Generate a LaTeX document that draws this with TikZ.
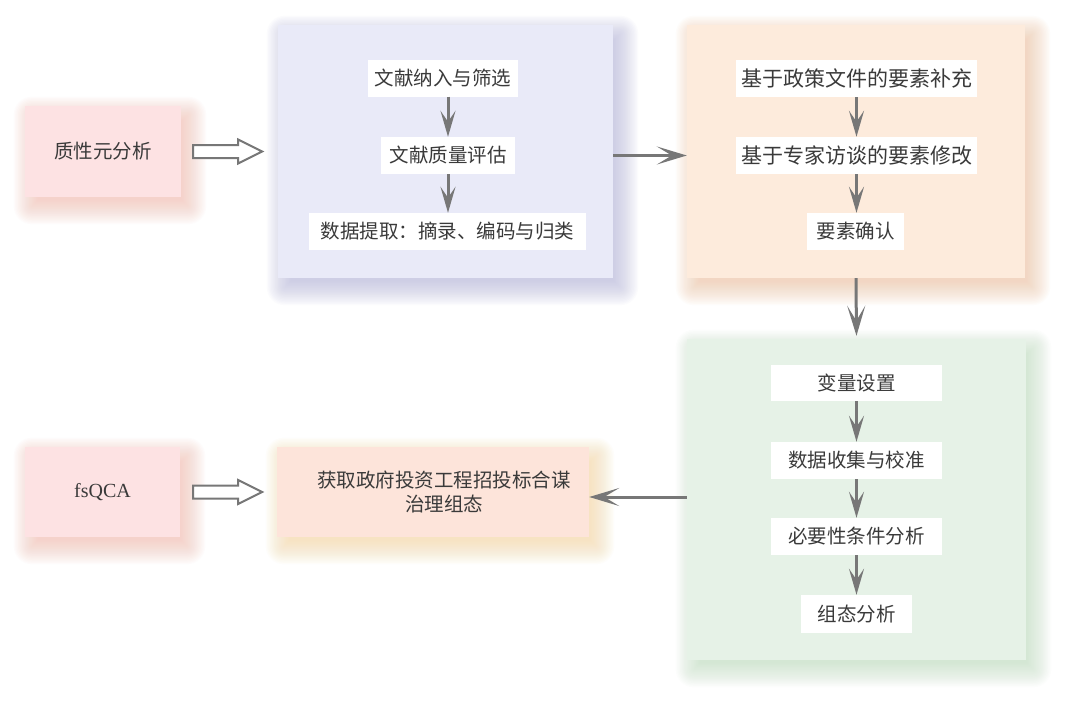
\documentclass[tikz,border=0pt]{standalone}
\usepackage{fontspec}
\setmainfont{Noto Sans CJK SC}
\newfontfamily\latinserif{Liberation Serif}
\usetikzlibrary{arrows.meta,calc}
\pgfdeclarelayer{bg}
\pgfsetlayers{bg,main}
\definecolor{txt}{HTML}{3A3A3A}
\definecolor{arr}{HTML}{777777}
\definecolor{pinkF}{HTML}{FDE2E3}
\definecolor{pinkS}{HTML}{F5B8AA}
\definecolor{blueF}{HTML}{E9EAF8}
\definecolor{blueS}{HTML}{B0B1D8}
\definecolor{oranF}{HTML}{FDEBDC}
\definecolor{oranS}{HTML}{F2C09C}
\definecolor{greenF}{HTML}{E6F2E7}
\definecolor{greenS}{HTML}{BCDCBC}
\definecolor{resF}{HTML}{FDE4DA}
\definecolor{resS}{HTML}{F7D59C}
\newcommand\softshadow[2]{%
  \foreach \k in {0,...,17}{%
    \pgfmathsetmacro\ee{18-1.4*\k}%
    \pgfmathsetmacro\rr{max(\ee,0.5)}%
    \fill[#2, opacity=0.045, rounded corners=\rr pt]
      ([shift={(7-\ee,9-\ee)}]#1.north west) rectangle ([shift={(7+\ee,9+\ee)}]#1.south east);
  }}
\tikzset{
  container/.style={fill=#1, inner sep=0pt, text=txt, font=\fontsize{19.5}{24}\selectfont},
  inbox/.style={fill=white, text=txt, minimum height=37pt, inner xsep=3pt, inner ysep=0pt, font=\fontsize{19.5}{22}\selectfont},
  sarrow/.style={draw=arr, line width=3pt, -{Stealth[length=26pt,width=15pt,inset=11pt]}},
  barrow/.style={draw=arr, line width=3pt, -{Stealth[length=30pt,width=18pt,inset=15pt]}},
  hollow/.style={draw=arr, line width=2pt, fill=white, line join=miter}
}
\begin{document}
\begin{tikzpicture}[x=1pt,y=-1pt]
\useasboundingbox (0,0) rectangle (1080,715);

% containers
\node[container=pinkF, minimum width=156pt, minimum height=91pt] (p1) at (103,151.5) {质性元分析};
\node[container=blueF, minimum width=335pt, minimum height=253pt] (bx) at (445.5,151.5) {};
\node[container=oranF, minimum width=338pt, minimum height=253pt] (ox) at (856,151.5) {};
\node[container=greenF, minimum width=339pt, minimum height=321pt] (gx) at (856.5,499.5) {};
\node[container=pinkF, minimum width=155pt, minimum height=90pt, font=\latinserif\fontsize{20}{24}\selectfont] (p2) at (102.5,492) {fsQCA};
\node[container=resF, minimum width=312pt, minimum height=90pt] (r) at (433,492) {};
\node[text=txt, align=center, inner sep=0pt, font=\fontsize{19.5}{24}\selectfont] (rt) at (444,492) {获取政府投资工程招投标合谋\\治理组态};

% inner boxes
\node[inbox, minimum width=150pt] (b1) at (443,78) {文献纳入与筛选};
\node[inbox, minimum width=134pt] (b2) at (448,155.5) {文献质量评估};
\node[inbox, minimum width=277pt] (b3) at (447.5,231.5) {数据提取：摘录、编码与归类};

\node[inbox, minimum width=241pt, font=\fontsize{21}{24}\selectfont] (o1) at (856.5,78.5) {基于政策文件的要素补充};
\node[inbox, minimum width=241pt, font=\fontsize{21}{24}\selectfont] (o2) at (856.5,155.5) {基于专家访谈的要素修改};
\node[inbox, minimum width=97pt] (o3) at (855.5,231.5) {要素确认};

\node[inbox, minimum width=171pt, minimum height=36pt] (g1) at (856.5,383) {变量设置};
\node[inbox, minimum width=171pt] (g2) at (856.5,460.5) {数据收集与校准};
\node[inbox, minimum width=171pt] (g3) at (856.5,536.5) {必要性条件分析};
\node[inbox, minimum width=111pt, minimum height=38pt] (g4) at (856.5,614) {组态分析};

% background and shadows
\begin{pgfonlayer}{bg}
\fill[white] (0,0) rectangle (1080,715);
\softshadow{p1}{pinkS}
\softshadow{p2}{pinkS}
\softshadow{bx}{blueS}
\softshadow{ox}{oranS}
\softshadow{gx}{greenS}
\softshadow{r}{resS}
\end{pgfonlayer}

% inner arrows
\draw[sarrow] (b2.north |- b1.south) -- (b2.north);
\draw[sarrow] (b2.south) -- (b3.north -| b2.south);
\draw[sarrow] (o1.south) -- (o2.north);
\draw[sarrow] (o2.south) -- (o3.north -| o2.south);
\draw[sarrow] (g1.south) -- (g2.north);
\draw[sarrow] (g2.south) -- (g3.north);
\draw[sarrow] (g3.south) -- (g4.north);

% big arrows
\draw[barrow] (bx.east |- b2) -- (ox.west |- b2);
\draw[barrow, shorten >=3pt] (ox.south) -- (gx.north);
\draw[barrow] (gx.west |- 0,497) -- (r.east |- 0,497);

% hollow arrows
\draw[hollow] ([xshift=12pt]p1.east) ++(0,-6.5) -- ++(45,0) -- ++(0,-5.5) -- ++(24,12) -- ++(-24,12) -- ++(0,-5.5) -- ++(-45,0) -- cycle;
\draw[hollow] ([xshift=13pt]p2.east) ++(0,-6.5) -- ++(45,0) -- ++(0,-5.5) -- ++(24,12) -- ++(-24,12) -- ++(0,-5.5) -- ++(-45,0) -- cycle;
\end{tikzpicture}
\end{document}
